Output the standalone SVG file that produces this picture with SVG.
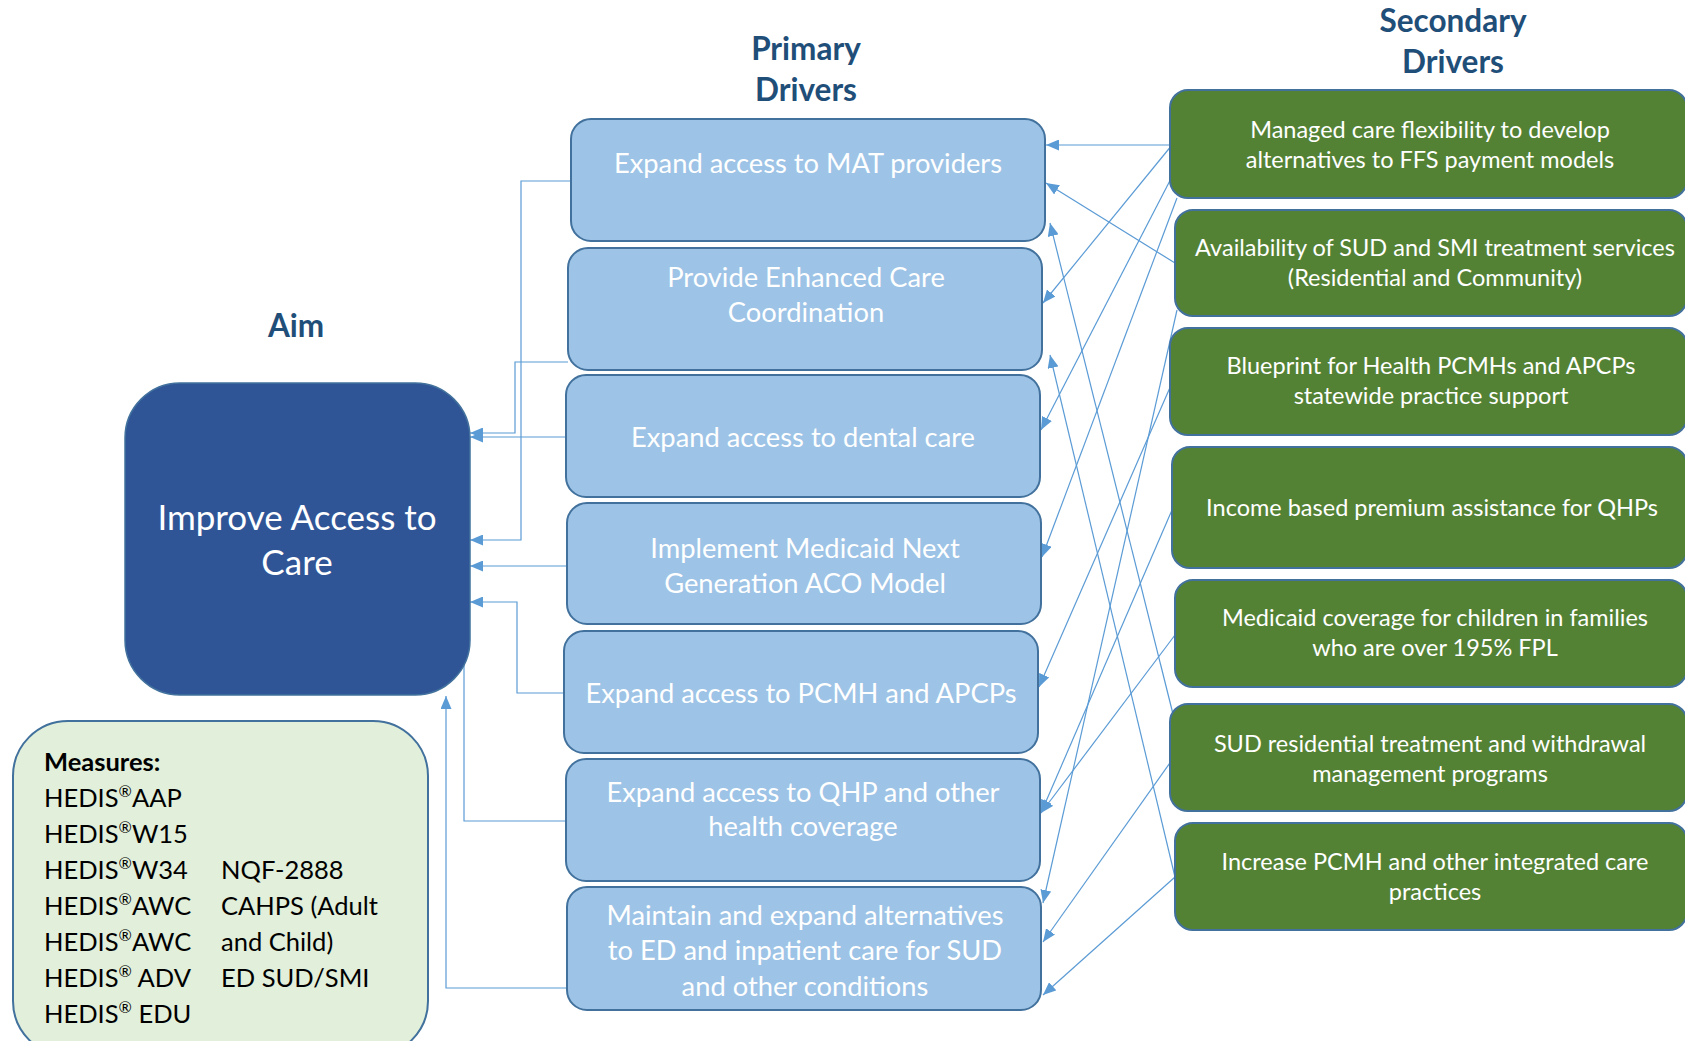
<svg xmlns="http://www.w3.org/2000/svg" width="1685" height="1041" viewBox="0 0 1685 1041">
<defs>
<marker id="arr" markerUnits="userSpaceOnUse" markerWidth="13" markerHeight="11" viewBox="0 0 13 11" refX="13" refY="5.5" orient="auto">
<path d="M0,0 L13,5.5 L0,11 z" fill="#5B9BD5"/>
</marker>
<style>
.title{font-family:Lato,"Liberation Sans",sans-serif;font-weight:bold;font-size:31.5px;fill:#1F4E79;text-anchor:middle}
.aim{fill:#2F5597;stroke:#41719C;stroke-width:1.5}
.aimt{font-family:Lato,"Liberation Sans",sans-serif;font-size:35px;fill:#fff;text-anchor:middle}
.prim{fill:#9DC3E6;stroke:#41719C;stroke-width:2}
.pt{font-family:Lato,"Liberation Sans",sans-serif;font-size:27.3px;fill:#fff;text-anchor:middle}
.sec{fill:#548235;stroke:#41719C;stroke-width:2}
.st{font-family:Lato,"Liberation Sans",sans-serif;font-size:23.5px;fill:#fff;text-anchor:middle}
.meas{fill:#E2EFDA;stroke:#41719C;stroke-width:2}
.mt{font-family:Lato,"Liberation Sans",sans-serif;font-size:25.5px;fill:#000}
.sup{font-size:16px}
.ca{fill:none;stroke:#5B9BD5;stroke-width:1.2;marker-end:url(#arr)}
</style>
</defs>
<rect width="1685" height="1041" fill="#fff"/>

<g id="titles">
<text class="title" x="806" y="60">Primary</text>
<text class="title" x="806" y="101">Drivers</text>
<text class="title" x="1453" y="32">Secondary</text>
<text class="title" x="1453" y="73">Drivers</text>
<text class="title" x="296" y="337">Aim</text>
</g>

<g id="connectors">
<path class="ca" d="M571,181 H521 V540 H470"/>
<path class="ca" d="M568,362 H515 V433 H470"/>
<path class="ca" d="M566,437 H470"/>
<path class="ca" d="M567,566 H470"/>
<path class="ca" d="M564,693 H517 V602 H470"/>
<path class="ca" d="M566,821 H464 V635"/>
<path class="ca" d="M567,988 H446 V696"/>

<path class="ca" d="M1172,145 L1046,145"/>
<path class="ca" d="M1172,145 L1043,303"/>
<path class="ca" d="M1177,167 L1041,430"/>
<path class="ca" d="M1177,198 L1042,557"/>
<path class="ca" d="M1175,263 L1046,183"/>
<path class="ca" d="M1177,310 L1043,903"/>
<path class="ca" d="M1172,383 L1039,687"/>
<path class="ca" d="M1172,510 L1041,813"/>
<path class="ca" d="M1175,635 L1041,813"/>
<path class="ca" d="M1172,760 L1043,942"/>
<path class="ca" d="M1175,877 L1043,995"/>
<path class="ca" d="M1177,730 L1050,223"/>
<path class="ca" d="M1175,877 L1050,355"/>
</g>

<g id="aim">
<rect class="aim" x="125" y="383" width="345" height="312" rx="55"/>
<text class="aimt" x="297" y="530">Improve Access to</text>
<text class="aimt" x="297" y="575">Care</text>
</g>

<g id="measures">
<rect class="meas" x="13" y="721" width="415" height="335" rx="55"/>
<text class="mt" x="44" y="771" font-weight="bold">Measures:</text>
<text class="mt" x="44" y="807">HEDIS<tspan class="sup" dy="-10">®</tspan><tspan dy="10">AAP</tspan></text>
<text class="mt" x="44" y="843">HEDIS<tspan class="sup" dy="-10">®</tspan><tspan dy="10">W15</tspan></text>
<text class="mt" x="44" y="879">HEDIS<tspan class="sup" dy="-10">®</tspan><tspan dy="10">W34</tspan></text>
<text class="mt" x="44" y="915">HEDIS<tspan class="sup" dy="-10">®</tspan><tspan dy="10">AWC</tspan></text>
<text class="mt" x="44" y="951">HEDIS<tspan class="sup" dy="-10">®</tspan><tspan dy="10">AWC</tspan></text>
<text class="mt" x="44" y="987">HEDIS<tspan class="sup" dy="-10">®</tspan><tspan dy="10"> ADV</tspan></text>
<text class="mt" x="44" y="1023">HEDIS<tspan class="sup" dy="-10">®</tspan><tspan dy="10"> EDU</tspan></text>
<text class="mt" x="221" y="879">NQF-2888</text>
<text class="mt" x="221" y="915">CAHPS (Adult</text>
<text class="mt" x="221" y="951">and Child)</text>
<text class="mt" x="221" y="987">ED SUD/SMI</text>
</g>

<g id="p1"><rect class="prim" x="571" y="119" width="474" height="122" rx="20"/>
<text class="pt" x="808" y="173">Expand access to MAT providers</text></g>
<g id="p2"><rect class="prim" x="568" y="248" width="474" height="122" rx="20"/>
<text class="pt" x="806" y="287">Provide Enhanced Care</text>
<text class="pt" x="806" y="322">Coordination</text></g>
<g id="p3"><rect class="prim" x="566" y="375" width="474" height="122" rx="20"/>
<text class="pt" x="803" y="447">Expand access to dental care</text></g>
<g id="p4"><rect class="prim" x="567" y="503" width="474" height="121" rx="20"/>
<text class="pt" x="805" y="558">Implement Medicaid Next</text>
<text class="pt" x="805" y="593">Generation ACO Model</text></g>
<g id="p5"><rect class="prim" x="564" y="631" width="474" height="122" rx="20"/>
<text class="pt" x="801" y="703">Expand access to PCMH and APCPs</text></g>
<g id="p6"><rect class="prim" x="566" y="759" width="474" height="122" rx="20"/>
<text class="pt" x="803" y="802">Expand access to QHP and other</text>
<text class="pt" x="803" y="836">health coverage</text></g>
<g id="p7"><rect class="prim" x="567" y="887" width="474" height="123" rx="20"/>
<text class="pt" x="805" y="925">Maintain and expand alternatives</text>
<text class="pt" x="805" y="960">to ED and inpatient care for SUD</text>
<text class="pt" x="805" y="996">and other conditions</text></g>

<g id="s1"><rect class="sec" x="1170" y="90" width="517" height="108" rx="18"/>
<text class="st" x="1430" y="138">Managed care flexibility to develop</text>
<text class="st" x="1430" y="168">alternatives to FFS payment models</text></g>
<g id="s2"><rect class="sec" x="1175" y="210" width="512" height="106" rx="18"/>
<text class="st" x="1435" y="256">Availability of SUD and SMI treatment services</text>
<text class="st" x="1435" y="286">(Residential and Community)</text></g>
<g id="s3"><rect class="sec" x="1170" y="328" width="517" height="107" rx="18"/>
<text class="st" x="1431" y="374">Blueprint for Health PCMHs and APCPs</text>
<text class="st" x="1431" y="404">statewide practice support</text></g>
<g id="s4"><rect class="sec" x="1172" y="447" width="515" height="121" rx="18"/>
<text class="st" x="1432" y="516">Income based premium assistance for QHPs</text></g>
<g id="s5"><rect class="sec" x="1175" y="580" width="512" height="107" rx="18"/>
<text class="st" x="1435" y="626">Medicaid coverage for children in families</text>
<text class="st" x="1435" y="656">who are over 195% FPL</text></g>
<g id="s6"><rect class="sec" x="1170" y="704" width="517" height="107" rx="18"/>
<text class="st" x="1430" y="752">SUD residential treatment and withdrawal</text>
<text class="st" x="1430" y="782">management programs</text></g>
<g id="s7"><rect class="sec" x="1175" y="823" width="512" height="107" rx="18"/>
<text class="st" x="1435" y="870">Increase PCMH and other integrated care</text>
<text class="st" x="1435" y="900">practices</text></g>
</svg>
